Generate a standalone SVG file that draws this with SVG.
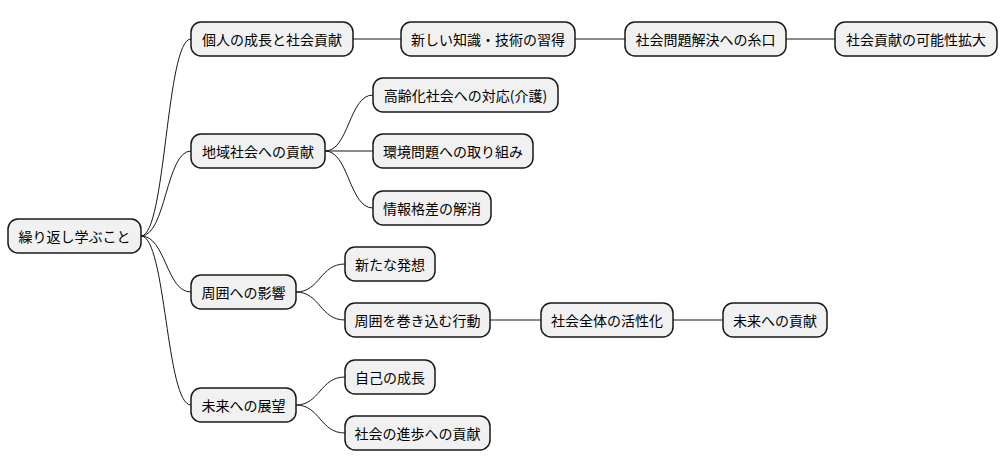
<svg xmlns="http://www.w3.org/2000/svg" width="1006" height="471" viewBox="0 0 1006 471">
<style>
rect{fill:#f1f1f1;stroke:#181818;stroke-width:1.5}
text{font-family:"Noto Sans CJK JP","Noto Sans",sans-serif;font-size:14px;fill:#000;text-anchor:middle;dominant-baseline:central}
path{fill:none;stroke:#181818;stroke-width:1}
</style>
<rect width="1006" height="471" style="fill:#fff;stroke:none"/>
<g id="connectors">
<path d="M141,236 C166,236 166,39 191,39"/>
<path d="M141,236 C166,236 166,151 191,151"/>
<path d="M141,236 C166,236 166,292 191,292"/>
<path d="M141,236 C166,236 166,405 191,405"/>
<path d="M353,39 L401,39"/>
<path d="M575,39 L625,39"/>
<path d="M786,39 L835,39"/>
<path d="M325,151 C349,151 349,95 373,95"/>
<path d="M325,151 L373,151"/>
<path d="M325,151 C349,151 349,208 373,208"/>
<path d="M296,292 C320,292 320,264 345,264"/>
<path d="M296,292 C320,292 320,320 345,320"/>
<path d="M490,320 L541,320"/>
<path d="M673,320 L723,320"/>
<path d="M296,405 C320,405 320,377 345,377"/>
<path d="M296,405 C320,405 320,433 345,433"/>
</g>
<g id="n0"><rect x="8" y="219" width="133" height="34" rx="10"/><text x="74.5" y="236">繰り返し学ぶこと</text></g>
<g id="n1"><rect x="191" y="22" width="162" height="34" rx="10"/><text x="272" y="39">個人の成長と社会貢献</text></g>
<g id="n2"><rect x="401" y="22" width="174" height="34" rx="10"/><text x="488" y="39">新しい知識・技術の習得</text></g>
<g id="n3"><rect x="625" y="22" width="161" height="34" rx="10"/><text x="705.5" y="39">社会問題解決への糸口</text></g>
<g id="n4"><rect x="835" y="22" width="162" height="34" rx="10"/><text x="916" y="39">社会貢献の可能性拡大</text></g>
<g id="n5"><rect x="191" y="134" width="134" height="34" rx="10"/><text x="258" y="151">地域社会への貢献</text></g>
<g id="n6"><rect x="373" y="78" width="185" height="34" rx="10"/><text x="465.5" y="95">高齢化社会への対応(介護)</text></g>
<g id="n7"><rect x="373" y="134" width="160" height="34" rx="10"/><text x="453" y="151">環境問題への取り組み</text></g>
<g id="n8"><rect x="373" y="191" width="118" height="34" rx="10"/><text x="432" y="208">情報格差の解消</text></g>
<g id="n9"><rect x="191" y="275" width="105" height="34" rx="10"/><text x="243.5" y="292">周囲への影響</text></g>
<g id="n10"><rect x="345" y="247" width="90" height="34" rx="10"/><text x="390" y="264">新たな発想</text></g>
<g id="n11"><rect x="345" y="303" width="145" height="34" rx="10"/><text x="417.5" y="320">周囲を巻き込む行動</text></g>
<g id="n12"><rect x="541" y="303" width="132" height="34" rx="10"/><text x="607" y="320">社会全体の活性化</text></g>
<g id="n13"><rect x="723" y="303" width="104" height="34" rx="10"/><text x="775" y="320">未来への貢献</text></g>
<g id="n14"><rect x="191" y="388" width="105" height="34" rx="10"/><text x="243.5" y="405">未来への展望</text></g>
<g id="n15"><rect x="345" y="360" width="90" height="34" rx="10"/><text x="390" y="377">自己の成長</text></g>
<g id="n16"><rect x="345" y="416" width="145" height="34" rx="10"/><text x="417.5" y="433">社会の進歩への貢献</text></g>
</svg>
